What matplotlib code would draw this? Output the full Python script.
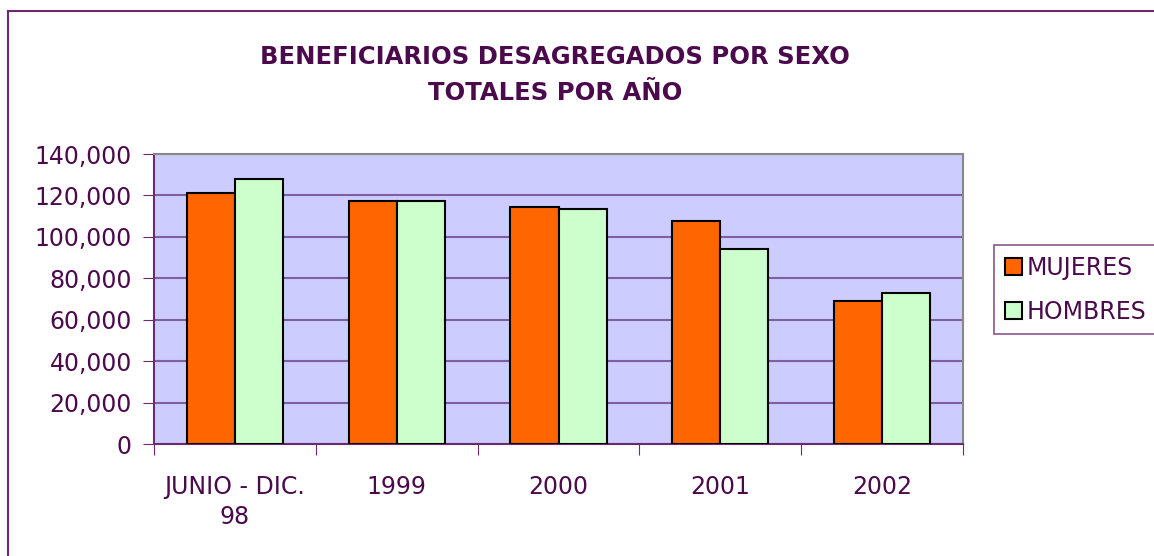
import numpy as np
import matplotlib
matplotlib.use('Agg')
import matplotlib.pyplot as plt
from matplotlib.lines import Line2D

categorias = ['JUNIO - DIC.\n98', '1999', '2000', '2001', '2002']
mujeres = [121400, 117400, 114500, 107700, 69100]
hombres = [128000, 117400, 113500, 94300, 73000]
yticks = [0, 20000, 40000, 60000, 80000, 100000, 120000, 140000]

texto = '#4B0A4B'
morado = '#6E2A6E'

plt.rcParams['font.family'] = ['DejaVu Sans']

W, H = 1154, 556
fig = plt.figure(figsize=(W / 100, H / 100), dpi=100)
ax = fig.add_axes([154 / W, 1 - 444 / H, (963 - 154) / W, (444 - 154) / H])
ax.set_facecolor('#CCCCFF')

x = np.arange(len(categorias))
w = 0.297
b1 = ax.bar(x - w / 2, mujeres, w, color='#FF6600', edgecolor='black', linewidth=1.5,
            label='MUJERES', zorder=3)
b2 = ax.bar(x + w / 2, hombres, w, color='#CCFFCC', edgecolor='black', linewidth=1.5,
            label='HOMBRES', zorder=3)

ax.set_xlim(-0.5, len(categorias) - 0.5)
ax.set_ylim(0, 140000)
ax.set_yticks(yticks)
ax.set_yticklabels([f'{v:,}' for v in yticks], fontsize=17, color=texto)
ax.yaxis.grid(True, color='#7F5F9F', linewidth=1.5, zorder=1)
ax.set_axisbelow(True)

# ticks on category boundaries, labels centred
ax.set_xticks(np.arange(len(categorias) + 1) - 0.5)
ax.set_xticklabels([])
ax.set_xticks(x, minor=True)
ax.set_xticklabels(categorias, minor=True, fontsize=17, color=texto,
                   va='top', linespacing=1.35)
ax.tick_params(axis='x', which='minor', length=0, pad=22)
ax.tick_params(axis='x', which='major', length=8, color=morado, direction='out')
ax.tick_params(axis='y', length=8, color=morado, direction='out', pad=8)

for s in ['left', 'bottom']:
    ax.spines[s].set_color(morado)
    ax.spines[s].set_linewidth(1.5)
for s in ['top', 'right']:
    ax.spines[s].set_color('#888888')
    ax.spines[s].set_linewidth(1.5)

fig.text(555 / W, 1 - 75 / H, 'BENEFICIARIOS DESAGREGADOS POR SEXO\nTOTALES POR AÑO',
         ha='center', va='center', fontsize=17.5, fontweight='bold', color=texto,
         linespacing=1.6)

leg = fig.legend(handles=[b1, b2], loc='upper left',
                 bbox_to_anchor=(994 / W, 1 - 245 / H), fontsize=17,
                 frameon=True, fancybox=False, borderpad=0.45,
                 handlelength=0.75, handleheight=0.75, handletextpad=0.2,
                 labelspacing=0.85, borderaxespad=0)
leg.get_frame().set_edgecolor(morado)
leg.get_frame().set_linewidth(1.2)
for t in leg.get_texts():
    t.set_color(texto)

# chart area border
fig.add_artist(Line2D([8 / W, 8 / W], [0, 1 - 11 / H], color=morado, linewidth=1.5))
fig.add_artist(Line2D([8 / W, 1], [1 - 11 / H, 1 - 11 / H], color=morado, linewidth=1.5))

fig.savefig('out.png', dpi=100)
